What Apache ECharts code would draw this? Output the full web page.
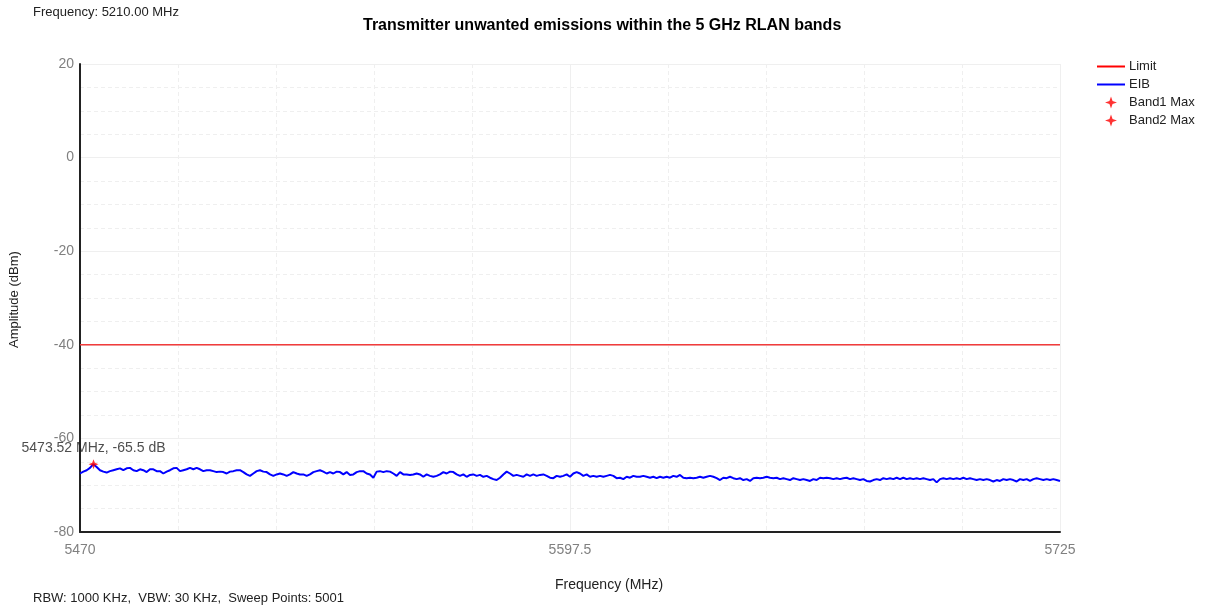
<!DOCTYPE html>
<html>
<head>
<meta charset="utf-8">
<title>Transmitter unwanted emissions within the 5 GHz RLAN bands</title>
<script src="https://cdn.jsdelivr.net/npm/echarts@6/dist/echarts.min.js"></script>
<style>
  html, body { margin: 0; padding: 0; background: #fff; }
  #main { width: 1205px; height: 613px; }
</style>
</head>
<body>
<div id="main"></div>
<script>
// ---------- data ----------
var startFreq = 5470;
var stopFreq = 5725;
var xTickLabels = ['5470', '5597.5', '5725'];
var yTickLabels = [20, 0, -20, -40, -60, -80];

var limitFreq = [5470, 5725];
var limitLevel = [-40, -40];

var band1Freq = [5473.52];
var band1Level = [-65.5];

// EIB trace, sweep points evenly spaced from 5470 to 5725 MHz
var eibLevel = [
  -67.5,-67.1,-66.8,-66.3,-65.5,-66.1,-66.8,-67.1,-67.3,-67.0,
  -66.8,-66.6,-66.4,-66.8,-66.4,-66.3,-66.8,-67.0,-66.6,-66.8,
  -67.2,-66.6,-66.6,-67.0,-67.0,-67.5,-67.1,-66.8,-66.4,-66.3,
  -67.0,-66.8,-66.6,-66.3,-66.6,-66.3,-66.6,-67.0,-66.8,-66.8,
  -67.0,-67.2,-67.1,-67.2,-67.5,-67.1,-67.0,-66.8,-66.8,-67.2,
  -67.7,-68.0,-67.5,-67.0,-66.8,-67.1,-67.2,-67.7,-68.0,-67.7,
  -67.5,-67.7,-68.0,-67.7,-67.2,-67.5,-67.7,-67.7,-68.0,-67.7,
  -67.2,-67.0,-66.8,-67.1,-67.5,
  -67.2,-67.5,-67.1,-67.2,-67.7,-67.2,-67.8,-67.7,-67.2,
  -67.0,-67.0,-67.5,-67.7,-68.4,-67.1,-67.0,-67.2,-67.0,-67.1,
  -67.5,-68.0,-67.2,-67.7,-67.7,-67.8,-67.7,-67.5,-67.7,-68.2,
  -67.7,-68.0,-68.2,-68.0,-67.7,-67.2,-67.5,-67.1,-67.2,-67.7,
  -68.0,-67.7,-68.2,-67.8,-67.7,-68.0,-67.8,-68.2,-68.0,-68.4,
  -68.7,-68.9,-68.4,-67.7,-67.1,-67.5,-68.0,-67.8,-68.0,-68.2,
  -67.7,-68.0,-67.7,-68.0,-67.8,-67.7,-68.0,-68.4,-68.5,-68.0,
  -68.2,-68.0,-67.7,-68.2,-67.5,
  -67.2,-67.5,-68.0,-67.7,-68.2,-68.0,-68.2,-68.0,-68.2,
  -68.0,-67.8,-68.0,-68.5,-68.4,-68.7,-68.2,-68.4,-68.0,-68.2,
  -68.2,-68.0,-68.2,-68.4,-68.2,-68.5,-68.2,-68.4,-68.2,-68.4,
  -68.0,-68.2,-67.8,-68.4,-68.5,-68.4,-68.5,-68.4,-68.2,-68.4,
  -68.2,-68.0,-68.2,-68.5,-68.9,-68.4,-68.5,-68.2,-68.5,-68.7,
  -68.5,-68.9,-68.7,-69.1,-68.5,-68.4,-68.5,-68.4,-68.2,-68.4,
  -68.5,-68.4,-68.7,-68.5,-68.7,-68.9,-68.5,-68.7,-68.9,-68.7,
  -68.9,-69.1,-68.7,-68.9,-68.4,
  -68.5,-68.4,-68.5,-68.7,-68.5,-68.7,-68.5,-68.4,-68.7,
  -68.5,-68.7,-68.9,-68.7,-69.1,-69.2,-68.9,-68.7,-68.9,-68.5,
  -68.7,-68.5,-68.7,-68.4,-68.7,-68.4,-68.7,-68.5,-68.7,-68.5,
  -68.7,-68.5,-68.7,-68.9,-68.7,-69.4,-68.7,-68.5,-68.7,-68.5,
  -68.7,-68.5,-68.7,-68.4,-68.7,-68.5,-68.7,-68.9,-68.7,-68.9,
  -68.7,-68.9,-69.2,-68.9,-69.1,-68.7,-68.9,-68.7,-68.9,-69.2,
  -68.7,-68.9,-68.7,-69.1,-68.7,-68.5,-68.7,-68.9,-68.7,-68.9,
  -68.7,-68.9,-69.1
];

(function () {
  var chart = echarts.init(document.getElementById('main'));
  var font = '"Liberation Sans", Arial, sans-serif';
  var starPath = 'path://M0,-10 L2.6,-2.6 L10,0 L2.6,2.6 L0,10 L-2.6,2.6 L-10,0 L-2.6,-2.6 Z';
  var linePath = 'path://M0,0 L28,0 L28,2 L0,2 Z';

  // x axis runs as offset from start freq so ticks line up with 5470 / 5597.5 / 5725
  function pair(f, v) { return [f - startFreq, v]; }
  var span = stopFreq - startFreq;
  var eibData = eibLevel.map(function (v, i) {
    return pair(startFreq + i * span / (eibLevel.length - 1), v);
  });
  var limitData = limitFreq.map(function (f, i) { return pair(f, limitLevel[i]); });
  var band1Data = band1Freq.map(function (f, i) { return pair(f, band1Level[i]); });

  var gridColor = '#efefef';

  var option = {
    animation: false,
    textStyle: { fontFamily: font },
    title: {
      text: 'Transmitter unwanted emissions within the 5 GHz RLAN bands',
      left: 358, top: 13,
      textStyle: { fontSize: 16, fontWeight: 'bold', color: '#000', fontFamily: font }
    },
    legend: {
      orient: 'vertical',
      left: 1092, top: 55,
      itemWidth: 28, itemHeight: 12, itemGap: 5,
      textStyle: { fontSize: 13, color: '#222', fontFamily: font, padding: [0, 0, 0, -1] },
      data: [
        { name: 'Limit', icon: linePath },
        { name: 'EIB', icon: linePath },
        { name: 'Band1 Max', icon: starPath, itemStyle: { color: '#ff0000' } },
        { name: 'Band2 Max', icon: starPath, itemStyle: { color: '#ff0000' } }
      ]
    },
    grid: { left: 80, right: 145, top: 64, bottom: 81, containLabel: false },
    xAxis: {
      type: 'value',
      min: 0, max: span, interval: span / 2,
      axisLine: { show: true, onZero: false, lineStyle: { color: '#222', width: 2 } },
      axisTick: { show: false },
      axisLabel: {
        color: '#808080', fontSize: 14, margin: 11, fontFamily: font,
        formatter: function (v) {
          var i = Math.round(v / (span / 2));
          return xTickLabels[i];
        }
      },
      splitLine: { show: true, lineStyle: { color: gridColor, width: 1 } },
      minorTick: { show: false, splitNumber: 5 },
      minorSplitLine: { show: true, lineStyle: { color: gridColor, type: [4, 3], width: 1 } }
    },
    yAxis: {
      type: 'value',
      min: -80, max: 20, interval: 20,
      axisLine: { show: true, lineStyle: { color: '#222', width: 2 } },
      axisTick: { show: false },
      axisLabel: {
        color: '#808080', fontSize: 14, margin: 6, fontFamily: font,
        formatter: function (v) { return yTickLabels.indexOf(v) >= 0 ? String(v) : ''; }
      },
      splitLine: { show: true, lineStyle: { color: gridColor, width: 1 } },
      minorTick: { show: false, splitNumber: 4 },
      minorSplitLine: { show: true, lineStyle: { color: gridColor, type: [4, 3], width: 1 } }
    },
    series: [
      {
        name: 'Limit', type: 'line', symbol: 'none',
        data: limitData,
        lineStyle: { color: '#f23c3c', width: 1.5 },
        itemStyle: { color: '#ff0000' },
        z: 3
      },
      {
        name: 'EIB', type: 'line', symbol: 'none',
        data: eibData,
        lineStyle: { color: '#0000ff', width: 2 },
        itemStyle: { color: '#0000ff' },
        z: 4
      },
      {
        name: 'Band1 Max', type: 'scatter',
        symbol: starPath, symbolSize: 10,
        data: band1Data,
        itemStyle: { color: '#ff0000' },
        label: {
          show: true, position: 'top', distance: 4,
          color: '#222', fontSize: 14, fontFamily: font,
          formatter: function (p) {
            return (p.value[0] + startFreq).toFixed(2) + ' MHz, ' + p.value[1].toFixed(1) + ' dB';
          }
        },
        z: 5
      },
      {
        name: 'Band2 Max', type: 'scatter',
        symbol: starPath, symbolSize: 10,
        data: [],
        itemStyle: { color: '#ff0000' }
      }
    ],
    graphic: [
      {
        type: 'text', left: 33, top: 6,
        style: { text: 'Frequency: 5210.00 MHz', fontSize: 13, fill: '#222', fontFamily: font }
      },
      {
        type: 'text', left: 555, top: 578,
        style: { text: 'Frequency (MHz)', fontSize: 14, fill: '#222', fontFamily: font }
      },
      {
        type: 'text', left: 33, top: 592,
        style: { text: 'RBW: 1000 KHz,  VBW: 30 KHz,  Sweep Points: 5001', fontSize: 13, fill: '#222', fontFamily: font }
      },
      {
        type: 'text', x: 8, y: 348, rotation: Math.PI / 2,
        style: { text: 'Amplitude (dBm)', fontSize: 13, fill: '#222', fontFamily: font }
      }
    ]
  };

  chart.setOption(option);
})();
</script>
</body>
</html>
